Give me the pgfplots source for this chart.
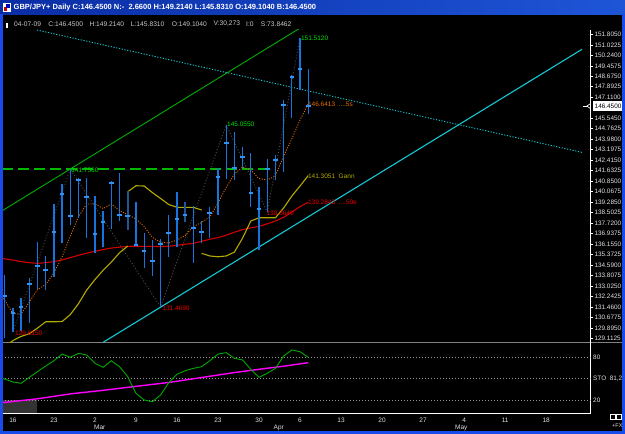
\documentclass[border=0pt]{standalone}
\usepackage{pgfplots}
\pgfplotsset{compat=1.18}
\usepackage{pgfplotstable}
\usepackage{fontspec}
\setmainfont{Liberation Sans}

\definecolor{barblue}{RGB}{25,115,220}
\definecolor{tickblue}{RGB}{45,145,245}
\definecolor{bardark}{RGB}{35,85,150}
\definecolor{chgreen}{RGB}{0,175,0}
\definecolor{dashgreen}{RGB}{0,185,0}
\definecolor{lblgreen}{RGB}{0,225,0}
\definecolor{cyanl}{RGB}{20,200,210}
\definecolor{mared}{RGB}{210,0,0}
\definecolor{lblred}{RGB}{235,0,0}
\definecolor{gann}{RGB}{180,170,0}
\definecolor{emaor}{RGB}{235,110,0}
\definecolor{zz}{RGB}{75,75,75}
\definecolor{stgreen}{RGB}{0,170,0}
\definecolor{stmag}{RGB}{255,0,255}
\definecolor{infogray}{RGB}{200,200,200}
\definecolor{tickgray}{RGB}{225,225,225}
\definecolor{brdblue}{RGB}{25,75,235}
\definecolor{tbarL}{RGB}{10,45,165}
\definecolor{tbarR}{RGB}{30,85,215}

% daily bars: index, high, low, close (index 0 = 13 Feb 2009)
\pgfplotstableread{
i h l c
0 133.85 129.12 132.30
1 131.36 129.62 131.01
2 132.11 129.67 131.44
3 133.65 130.29 133.18
4 136.29 132.80 134.54
5 135.29 132.73 134.20
6 139.12 133.72 137.03
7 140.66 136.21 139.92
8 141.756 137.58 138.27
9 141.06 138.08 140.96
10 141.11 136.63 139.67
11 139.74 135.47 136.91
12 138.62 135.96 137.83
13 140.86 137.28 140.69
14 141.48 137.88 138.35
16 139.27 136.06 136.09
17 136.96 134.39 135.62
18 136.46 133.77 134.89
19 136.51 131.469 136.14
20 138.33 135.21 137.01
21 140.03 135.96 138.03
23 139.00 134.77 137.33
24 137.88 136.21 137.04
25 138.95 136.59 138.45
26 141.81 138.33 141.18
27 145.055 140.99 143.68
28 144.54 140.96 141.86
29 143.42 141.81 142.63
30 142.98 138.95 139.99
31 140.44 135.71 138.75
32 142.49 138.564 141.76
33 142.80 140.94 142.43
34 146.91 141.56 146.53
35 148.77 145.54 148.60
36 151.512 147.65 149.20
37 149.214 145.831 146.45
}\bars
\pgfplotstableread{
i h l c
15 140.12 137.21 138.25
22 139.27 137.83 138.33
}\darkbars

\begin{document}
\begin{tikzpicture}
\useasboundingbox (0,0) rectangle (625pt,434pt);
\clip (0,0) rectangle (625pt,434pt);
\fill[black] (0,0) rectangle (625pt,434pt);
% scrollbar-like dark box
\fill[black!80!white] (2pt,21pt) rectangle (37pt,33.5pt);
% separator between panels
\draw[gray, line width=1.2pt] (3pt,91.7pt) -- (625pt,91.7pt);

%================ price panel ================
\begin{axis}[
  at={(3pt,91.7pt)}, anchor=south west,
  width=587.7pt, height=312.3pt, scale only axis,
  xmin=-0.207, xmax=71.43, ymin=128.83, ymax=152.13,
  axis x line=none, axis y line*=right,
  y axis line style={white, line width=0.8pt},
  scaled y ticks=false,
  ytick={151.805,151.0225,150.24,149.4575,148.675,147.8925,147.11,145.545,144.7625,143.98,143.1975,142.415,141.6325,140.85,140.0675,139.285,138.5025,137.72,136.9375,136.155,135.3725,134.59,133.8075,133.025,132.2425,131.46,130.6775,129.895,129.1125},
  ytick pos=right, tick align=outside, major tick length=2.6pt,
  ytick style={white, line width=0.6pt},
  /pgf/number format/assume math mode=true,
  yticklabel={\pgfmathprintnumber[fixed,fixed zerofill,precision=4]{\tick}},
  yticklabel style={font=\fontsize{6.4}{7}\selectfont, text=tickgray, anchor=west, inner sep=0pt, xshift=1pt},
  clip=true,
]
% channel lines
\addplot[chgreen, line width=0.9pt] coordinates {(-0.37,138.62) (36.2,152.35)};
\addplot[cyanl, line width=1.1pt] coordinates {(12,128.83) (70.37,150.69)};
\addplot[cyanl, line width=0.9pt, dash pattern=on 1.2pt off 1.6pt] coordinates {(3.94,152.13) (70.37,143.00)};
% horizontal resistance
\addplot[dashgreen, line width=1.2pt, dash pattern=on 11pt off 5pt] coordinates {(-0.3,141.756) (32.4,141.756)};
% zigzag
\addplot[zz, line width=0.9pt, dash pattern=on 1pt off 2pt] coordinates {(1,129.615) (8,141.756) (19,131.469) (27,145.055) (32,138.564) (36,151.512)};
% moving average (red)
\addplot[mared, line width=1.1pt] coordinates {(-0.37,135.09) (0,135.05) (1,134.97) (2,134.85) (3,134.77) (4,134.72) (5,134.77) (6,134.85) (7,134.98) (8,135.15) (9,135.32) (10,135.48) (11,135.62) (12,135.75) (13,135.86) (14,135.93) (15,135.99) (16,136.00) (17,135.98) (18,135.99) (19,135.97) (20,136.00) (21,136.06) (22,136.15) (23,136.21) (24,136.36) (25,136.52) (26,136.64) (27,136.82) (28,137.04) (29,137.24) (30,137.37) (31,137.48) (32,137.67) (33,137.88) (34,138.15) (35,138.55) (36,138.95) (37,139.28)};
% Gann HiLo (three segments)
\addplot[gann, line width=1.1pt] coordinates {(0,128.47) (1,128.96) (2,129.27) (3,129.47) (4,129.89) (5,130.36) (6,130.36) (7,130.38) (8,130.90) (9,131.72) (10,132.73) (11,133.51) (12,134.20) (13,134.82) (14,135.51) (15,136.01)};
\addplot[gann, line width=1.1pt] coordinates {(15,140.06) (16,140.51) (17,140.49) (18,140.00) (19,139.56) (20,139.11) (21,138.90) (22,138.90) (23,138.90) (24,138.70)};
\addplot[gann, line width=1.1pt] coordinates {(24,135.47) (25,135.27) (26,135.21) (27,135.27) (28,135.56) (29,136.61) (30,137.88) (31,138.12) (32,138.12) (33,138.12) (34,138.85) (35,139.74) (36,140.49) (37,141.27)};
% short EMA (orange dotted)
\addplot[emaor, line width=0.9pt, dash pattern=on 1pt off 1.5pt] coordinates {(-0.2,132.10) (0,131.98) (1,130.97) (2,130.94) (3,131.83) (4,132.77) (5,133.14) (6,134.02) (7,135.21) (8,136.76) (9,138.21) (10,139.15) (11,139.15) (12,138.81) (13,139.15) (14,138.66) (15,138.36) (16,138.03) (17,137.47) (18,136.65) (19,136.31) (20,136.24) (21,136.46) (22,136.80) (23,137.47) (24,137.77) (25,138.18) (26,139.22) (27,140.38) (28,141.39) (29,141.91) (30,141.68) (31,141.05) (32,140.94) (33,141.24) (34,142.73) (35,144.00) (36,145.42) (37,146.61)};
% bars
\addplot[only marks, mark=-, mark size=2.3pt, mark options={tickblue, line width=2pt},
  error bars/.cd, y dir=both, y explicit, error mark=none,
  error bar style={barblue, line width=1.3pt}]
  table[x=i, y=c, y error plus expr=\thisrow{h}-\thisrow{c}, y error minus expr=\thisrow{c}-\thisrow{l}] {\bars};
\addplot[only marks, mark=-, mark size=2.3pt, mark options={tickblue, line width=2pt},
  error bars/.cd, y dir=both, y explicit, error mark=none,
  error bar style={bardark, line width=1.7pt}]
  table[x=i, y=c, y error plus expr=\thisrow{h}-\thisrow{c}, y error minus expr=\thisrow{c}-\thisrow{l}] {\darkbars};
% swing labels
\begin{scope}[every node/.style={font=\fontsize{6.5}{7}\selectfont, inner sep=0pt, anchor=west}]
\node[text=lblred] at (axis cs:1.25,129.50) {129.6150};
\node[text=lblgreen] at (axis cs:8.1,141.70) {141.7560};
\node[text=lblred] at (axis cs:19.2,131.40) {131.4690};
\node[text=lblgreen] at (axis cs:27.1,145.06) {145.0550};
\node[text=lblred] at (axis cs:31.9,138.48) {138.5640};
\node[text=lblgreen] at (axis cs:36.1,151.51) {151.5120};
\node[text=emaor] at (axis cs:36.95,146.60) {146.6413 \ ....5s};
\node[text=gann] at (axis cs:36.95,141.24) {141.3051 \ Gann};
\node[text=lblred] at (axis cs:36.95,139.25) {139.2843 \ ....50e};
\end{scope}
\end{axis}

%================ stochastic panel ================
\begin{axis}[
  at={(3pt,21pt)}, anchor=south west,
  width=587.7pt, height=70.7pt, scale only axis,
  xmin=-0.207, xmax=71.43, ymin=1.74, ymax=101.08,
  axis x line*=bottom, axis y line*=right,
  axis line style={white, line width=0.8pt},
  ytick=\empty,
  xtick={1,6,11,16,21,26,31,36,41,46,51,56,61,66},
  xticklabels={16,23,2,9,16,23,30,6,13,20,27,4,11,18},
  major tick length=0pt,
  xticklabel style={font=\fontsize{6.5}{7}\selectfont, text=tickgray, anchor=center, inner sep=0pt, yshift=-7pt},
  clip=true,
]
\addplot[gray!80, line width=0.8pt, dash pattern=on 1.2pt off 1.8pt] coordinates {(-0.3,80) (71.5,80)};
\addplot[gray!80, line width=0.8pt, dash pattern=on 1.2pt off 1.8pt] coordinates {(-0.3,50) (71.5,50)};
\addplot[gray!80, line width=0.8pt, dash pattern=on 1.2pt off 1.8pt] coordinates {(-0.3,20) (71.5,20)};
\addplot[stmag, line width=1.4pt] coordinates {(-0.37,16.2) (4,21.7) (8,28.6) (12,33.6) (16,39.2) (20,44.6) (24,51.6) (28,58.6) (32,64.6) (34,67.5) (37,72.4)};
\addplot[stgreen, line width=0.9pt] coordinates {(-0.37,50.5) (0,49.5) (1,45.3) (2,43.5) (3,51.9) (4,59.8) (5,67.8) (6,75.2) (7,84.6) (8,80.0) (9,85.6) (10,83.2) (11,71.6) (12,65.9) (13,75.2) (14,66.8) (15,52.7) (16,29.4) (17,20.0) (18,17.6) (19,27.0) (20,44.3) (21,56.1) (22,61.2) (23,64.5) (24,66.8) (25,75.2) (26,84.6) (27,86.5) (28,78.6) (29,76.2) (30,63.1) (31,51.9) (32,57.5) (33,64.5) (34,81.8) (35,90.3) (36,87.9) (37,80.0)};
\end{axis}

% month labels
\begin{scope}[every node/.style={font=\fontsize{6.5}{7}\selectfont, text=tickgray, inner sep=0pt, anchor=west}]
\node at (94pt,6.5pt) {Mar};
\node at (273.5pt,6.5pt) {Apr};
\node at (455pt,6.5pt) {May};
\end{scope}

% right-hand labels of the lower panel
\begin{scope}[every node/.style={font=\fontsize{6.4}{7}\selectfont, text=tickgray, inner sep=0pt, anchor=west}]
\node at (593pt,76.7pt) {80};
\node at (593pt,55.4pt) {STO\ \ 81,2};
\node at (593pt,34pt) {20};
\end{scope}

% current price box and marker
\fill[white] (593pt,322.5pt) rectangle (623pt,333.2pt);
\node[font=\fontsize{6.4}{7}\selectfont, text=black, inner sep=0pt, anchor=west] at (594.5pt,327.9pt) {146.4500};
\draw[white, line width=0.7pt] (582.5pt,327.9pt) -- (586.5pt,327.9pt);
\draw[white, line width=0.7pt] (590.5pt,325.4pt) -- (586.8pt,327.9pt) -- (590.5pt,330.4pt);

% info line
\begin{scope}[every node/.style={font=\fontsize{6.7}{7}\selectfont, text=infogray, inner sep=0pt, anchor=west}]
\node at (14pt,410pt) {04-07-09};
\node at (48.3pt,410pt) {C:146.4500};
\node at (89.3pt,410pt) {H:149.2140};
\node at (130.7pt,410pt) {L:145.8310};
\node at (171.7pt,410pt) {O:149.1040};
\node at (213.3pt,410pt) {V:30,273};
\node at (246pt,410pt) {I:0};
\node at (260.7pt,410pt) {S:73.8462};
\end{scope}
\fill[white] (6.2pt,406pt) rectangle (7.6pt,411pt);

% title bar
\shade[left color=tbarL, right color=tbarR] (0,419.5pt) rectangle (625pt,434pt);
\fill[white] (2.5pt,422pt) rectangle (10.5pt,431pt);
\fill[red!80!black] (3.5pt,423pt) rectangle (7pt,427pt);
\fill[blue!70!black] (6pt,426pt) rectangle (9.5pt,430pt);
\node[font=\fontsize{7.5}{8}\selectfont\bfseries, text=white, inner sep=0pt, anchor=west] at (13.5pt,426.6pt)
  {GBP/JPY+ Daily C:146.4500 N:-\ \ 2.6600 H:149.2140 L:145.8310 O:149.1040 B:146.4500};

% window borders
\fill[brdblue] (0,0) rectangle (2.6pt,419.5pt);
\fill[brdblue] (622pt,0) rectangle (625pt,419.5pt);
\fill[brdblue] (0,0) rectangle (625pt,2.6pt);

% bottom-right controls
\draw[white, line width=0.5pt] (610pt,15pt) rectangle (615pt,20pt);
\draw[white, line width=0.5pt] (616.5pt,15pt) rectangle (621.5pt,20pt);
\node[font=\fontsize{5.5}{6}\selectfont, text=tickgray, inner sep=0pt, anchor=west] at (612pt,8pt) {+FX};
\end{tikzpicture}
\end{document}
